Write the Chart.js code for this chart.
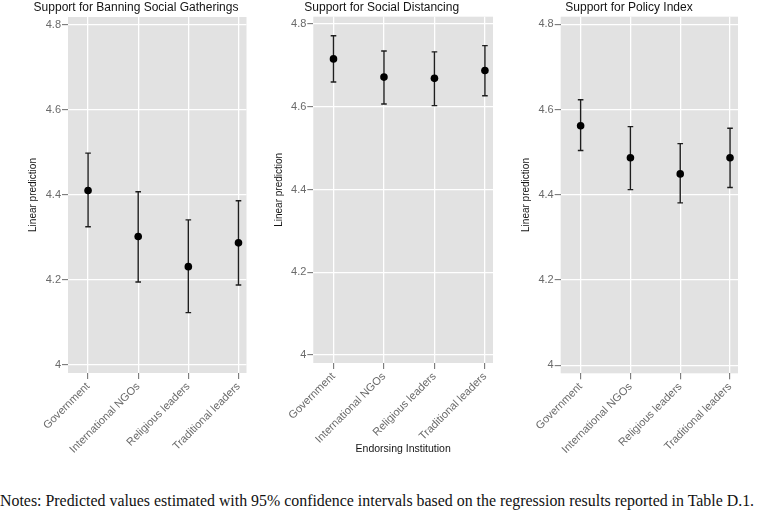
<!DOCTYPE html>
<html>
<head>
<meta charset="utf-8">
<script src="https://cdn.jsdelivr.net/npm/chart.js@4.4.1/dist/chart.umd.min.js"></script>
<style>
  html, body { margin: 0; padding: 0; background: #ffffff; }
  #wrap { position: relative; width: 764px; height: 512px; overflow: hidden; background: #fff; }
  canvas { position: absolute; top: 0; }
  #notes { position: absolute; left: 0px; top: 492px; white-space: nowrap;
           font-family: "Liberation Serif", "Times New Roman", serif; font-size: 15.9px; line-height: 17px; color: #111; }
</style>
</head>
<body>
<div id="wrap">
  <canvas id="c1" width="272" height="470" style="left:0px"></canvas>
  <canvas id="c2" width="264" height="470" style="left:250px"></canvas>
  <canvas id="c3" width="258" height="470" style="left:500px"></canvas>
  <div id="notes">Notes: Predicted values estimated with 95% confidence intervals based on the regression results reported in Table D.1.</div>
</div>
<script>
// ---- data ----
const categories = ['Government', 'International NGOs', 'Religious leaders', 'Traditional leaders'];
const yTicks = [4, 4.2, 4.4, 4.6, 4.8];

const banEst = [4.410, 4.302, 4.231, 4.287];
const banLo  = [4.325, 4.195, 4.123, 4.188];
const banHi  = [4.498, 4.407, 4.341, 4.386];

const distEst = [4.716, 4.672, 4.669, 4.688];
const distLo  = [4.660, 4.607, 4.603, 4.627];
const distHi  = [4.772, 4.735, 4.733, 4.748];

const polEst = [4.562, 4.487, 4.449, 4.487];
const polLo  = [4.504, 4.412, 4.381, 4.417];
const polHi  = [4.623, 4.560, 4.520, 4.556];

const titles = ['Support for Banning Social Gatherings', 'Support for Social Distancing', 'Support for Policy Index'];

// ---- helpers ----
const SANS = '"Liberation Sans", Arial, Helvetica, sans-serif';

const bgPlugin = {
  id: 'plotBg',
  beforeDraw(chart) {
    const a = chart.chartArea, ctx = chart.ctx;
    ctx.save();
    ctx.fillStyle = '#e2e2e2';
    ctx.fillRect(a.left, a.top, a.right - a.left, a.bottom - a.top);
    ctx.restore();
  }
};

const titlePlugin = {
  id: 'panelTitle',
  afterDraw(chart, args, opts) {
    const ctx = chart.ctx;
    ctx.save();
    ctx.font = '12px ' + SANS;
    ctx.fillStyle = '#141414';
    ctx.textAlign = 'center';
    ctx.textBaseline = 'middle';
    ctx.fillText(opts.text, opts.x, opts.y);
    ctx.restore();
  }
};

function makePanel(id, title, est, lo, hi, cfg) {
  const points = categories.map((c, i) => ({ x: i + 1, y: est[i] }));
  const bars = [];
  categories.forEach((c, i) => {
    bars.push({ x: i + 1, y: lo[i] });
    bars.push({ x: i + 1, y: hi[i] });
    bars.push({ x: i + 1, y: null });
  });
  return new Chart(document.getElementById(id), {
    type: 'scatter',
    data: {
      datasets: [
        { label: 'Linear prediction', data: points, pointRadius: 3.8, pointHoverRadius: 3.8,
          backgroundColor: '#000', borderColor: '#000', pointBorderWidth: 0, showLine: false },
        { label: '95% CI', type: 'line', data: bars, showLine: true, spanGaps: false,
          borderColor: '#1e1e1e', borderWidth: 1.4, pointStyle: 'line', pointRadius: 2.8,
          pointHoverRadius: 2.8, pointBorderColor: '#1e1e1e', pointBorderWidth: 1.4, fill: false }
      ]
    },
    options: {
      responsive: false,
      animation: false,
      events: [],
      layout: { padding: { left: 0, right: cfg.padRight, top: cfg.top, bottom: 0 } },
      plugins: {
        legend: { display: false },
        tooltip: { enabled: false },
        title: { display: false },
        panelTitle: { text: title, x: cfg.titleX, y: 7.5 }
      },
      scales: {
        x: {
          type: 'linear', min: 0.6, max: 4.16,
          afterBuildTicks(s) { s.ticks = categories.map((c, i) => ({ value: i + 1 })); },
          afterFit(s) { s.height = cfg.xHeight; },
          ticks: { autoSkip: false, minRotation: 45, maxRotation: 45, padding: 1, color: '#6a6a6a',
                   font: { family: SANS, size: 11 },
                   callback: (v) => categories[Math.round(v) - 1] },
          grid: { color: '#ffffff', lineWidth: 1.3, tickColor: '#6a6a6a', tickLength: 6, tickWidth: 1 },
          border: { display: false },
          title: { display: !!cfg.xTitle, text: cfg.xTitle || '', color: '#141414',
                   font: { family: SANS, size: 10.5 }, padding: { top: 0, bottom: 15 } }
        },
        y: {
          type: 'linear', min: 3.981, max: 4.818,
          afterBuildTicks(s) { s.ticks = yTicks.map(v => ({ value: v })); },
          afterFit(s) { s.width = cfg.yWidth; },
          ticks: { padding: 1, color: '#6a6a6a', font: { family: SANS, size: 11 },
                   callback: (v) => String(Math.round(v * 10) / 10) },
          grid: { color: '#ffffff', lineWidth: 1.3, tickColor: '#6a6a6a', tickLength: 6, tickWidth: 1 },
          border: { display: false },
          title: { display: true, text: 'Linear prediction', color: '#141414',
                   font: { family: SANS, size: 10 }, padding: { top: cfg.yTitlePad, bottom: 0 } }
        }
      }
    },
    plugins: [bgPlugin, titlePlugin]
  });
}

makePanel('c1', titles[0], banEst, banLo, banHi,
  { padRight: 25.5, top: 17, titleX: 136, xHeight: 97, yWidth: 68, yTitlePad: 27 });
makePanel('c2', titles[1], distEst, distLo, distHi,
  { padRight: 21, top: 16.7, titleX: 131.7, xHeight: 107, yWidth: 63.3, yTitlePad: 23.5, xTitle: 'Endorsing Institution' });
makePanel('c3', titles[2], polEst, polLo, polHi,
  { padRight: 20, top: 16.7, titleX: 129, xHeight: 96.7, yWidth: 60.7, yTitlePad: 20 });
</script>
</body>
</html>
